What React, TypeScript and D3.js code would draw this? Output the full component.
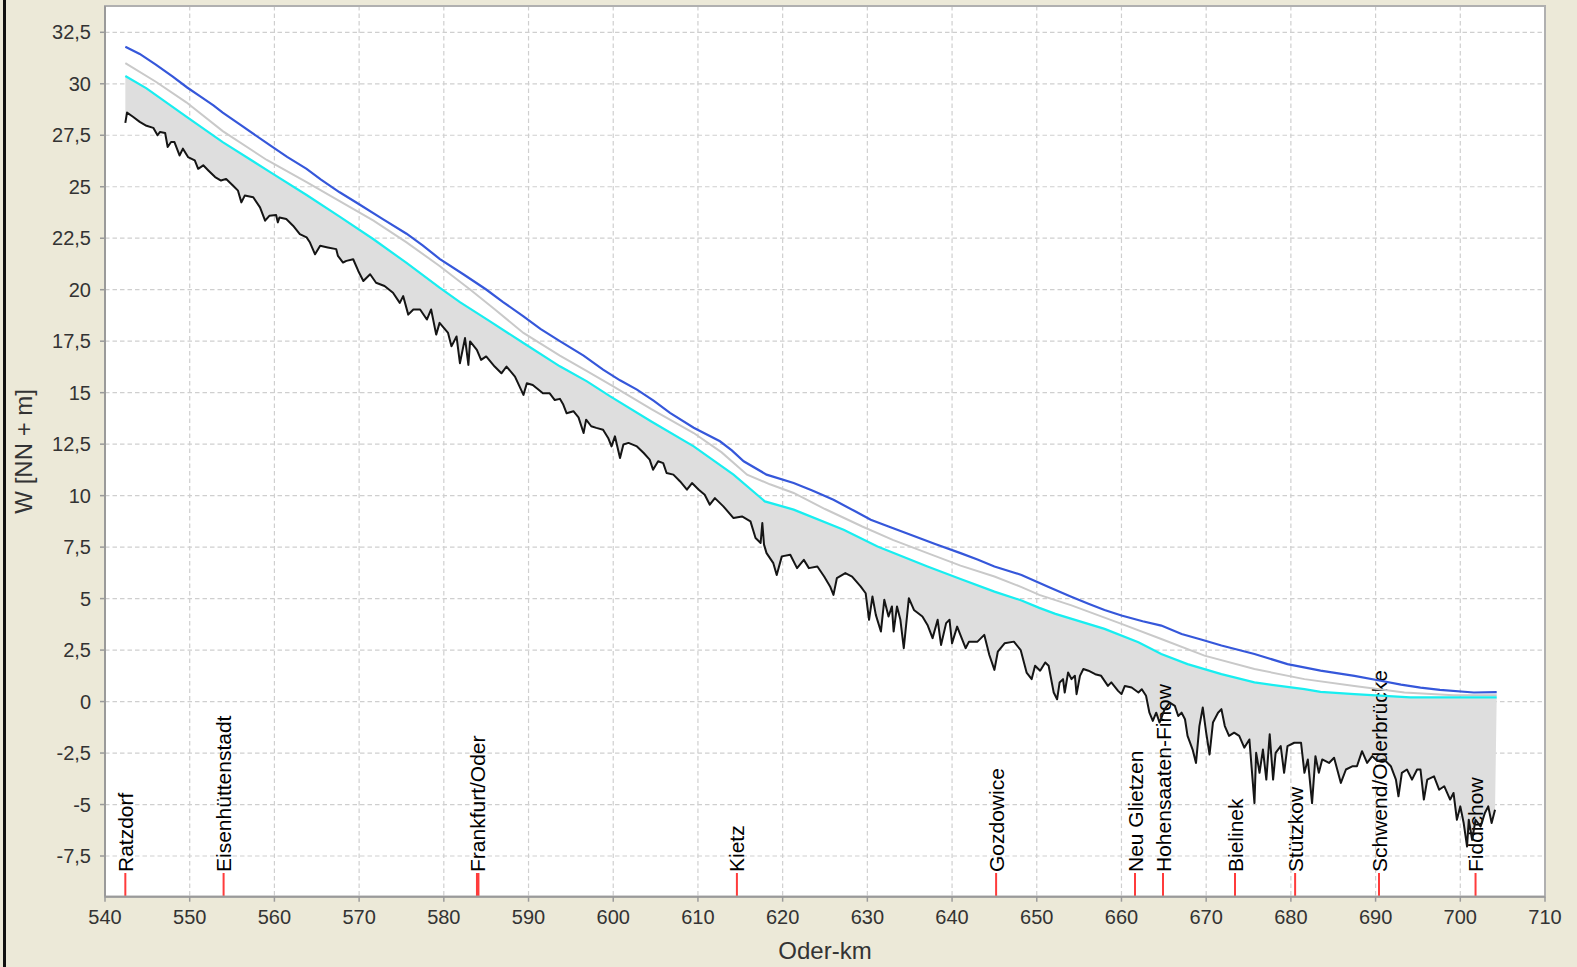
import React from "react";
import * as d3 from "d3";

// ---------- data ----------
const xTickValues = [540, 550, 560, 570, 580, 590, 600, 610, 620, 630, 640, 650, 660, 670, 680, 690, 700, 710];
const yTickValues = [-7.5, -5, -2.5, 0, 2.5, 5, 7.5, 10, 12.5, 15, 17.5, 20, 22.5, 25, 27.5, 30, 32.5];

const xLabel = "Oder-km";
const yLabel = "W [NN + m]";

const stationNames = [
  "Ratzdorf", "Eisenhüttenstadt", "Frankfurt/Oder", "Kietz", "Gozdowice",
  "Neu Glietzen", "Hohensaaten-Finow", "Bielinek", "Stützkow", "Schwend/Oderbrücke", "Fiddichow",
];
const stationKm = [542.4, 554.0, 584.0, 614.6, 645.2, 661.6, 664.9, 673.4, 680.5, 690.4, 701.8];

// upper water level (blue)
const blueLine: [number, number][] = [
  [542.4, 31.8], [544.1, 31.45], [546.0, 30.93], [548.0, 30.35], [549.7, 29.82], [551.2, 29.4],
  [552.8, 28.95], [553.9, 28.6], [556.0, 28.0], [559.5, 27.01], [561.5, 26.45], [563.8, 25.87],
  [565.5, 25.35], [567.7, 24.73], [570.0, 24.15], [572.8, 23.43], [575.6, 22.72], [577.5, 22.15],
  [579.5, 21.5], [582.3, 20.75], [585.0, 20.01], [587.0, 19.4], [589.4, 18.71], [591.4, 18.1],
  [593.7, 17.5], [596.5, 16.8], [598.8, 16.12], [600.8, 15.6], [602.8, 15.15], [604.8, 14.6],
  [606.7, 14.02], [609.5, 13.3], [612.6, 12.64], [614.0, 12.2], [615.4, 11.67], [618.1, 11.02],
  [621.3, 10.61], [623.5, 10.25], [626.0, 9.8], [628.5, 9.25], [630.4, 8.83], [632.5, 8.5],
  [635.1, 8.1], [638.0, 7.65], [641.0, 7.21], [643.0, 6.9], [645.0, 6.56], [648.2, 6.15],
  [651.4, 5.56], [654.0, 5.1], [656.1, 4.75], [658.0, 4.45], [660.0, 4.18], [662.5, 3.9],
  [664.7, 3.69], [667.1, 3.28], [669.5, 3.0], [671.8, 2.72], [675.7, 2.31], [679.6, 1.82],
  [683.5, 1.5], [687.5, 1.25], [690.6, 1.01], [693.0, 0.82], [695.3, 0.68], [697.6, 0.57],
  [701.6, 0.44], [704.3, 0.46],
];

// middle water level (light grey)
const greyLine: [number, number][] = [
  [542.4, 31.0], [546.0, 30.1], [549.6, 29.1], [553.9, 27.7], [559.1, 26.3], [563.8, 25.22],
  [567.7, 24.3], [571.7, 23.35], [575.6, 22.3], [579.5, 21.15], [583.1, 20.01], [586.0, 19.05],
  [589.4, 17.9], [593.7, 16.8], [596.9, 16.05], [600.0, 15.31], [604.5, 14.2], [609.5, 13.04],
  [612.8, 12.1], [615.8, 11.02], [618.5, 10.55], [621.3, 10.13], [625.0, 9.35], [629.4, 8.5],
  [633.0, 7.85], [637.1, 7.21], [641.0, 6.6], [645.0, 6.07], [648.2, 5.56], [650.3, 5.18],
  [654.1, 4.67], [660.0, 3.77], [664.7, 3.04], [669.8, 2.23], [675.7, 1.58], [681.6, 1.09],
  [687.5, 0.76], [693.4, 0.44], [699.2, 0.31], [704.3, 0.31],
];

// lower water level (cyan)
const cyanLine: [number, number][] = [
  [542.4, 30.38], [544.9, 29.78], [549.6, 28.4], [553.9, 27.17], [559.5, 25.71], [563.8, 24.6],
  [567.7, 23.55], [571.7, 22.45], [575.6, 21.3], [579.5, 20.1], [581.9, 19.4], [585.5, 18.45],
  [589.4, 17.41], [593.7, 16.28], [596.9, 15.55], [599.6, 14.83], [604.5, 13.6], [609.5, 12.39],
  [614.2, 11.02], [617.9, 9.72], [621.3, 9.32], [627.2, 8.34], [631.2, 7.53], [637.1, 6.56],
  [641.0, 5.95], [645.0, 5.34], [648.2, 4.91], [650.3, 4.55], [652.2, 4.26], [658.0, 3.53],
  [662.0, 2.88], [664.7, 2.31], [667.8, 1.82], [671.8, 1.33], [675.7, 0.93], [681.6, 0.6],
  [683.5, 0.47], [687.5, 0.36], [694.1, 0.2], [704.3, 0.2],
];

// river bed (black)
const bedLine: [number, number][] = [
  [542.4, 28.1], [542.6, 28.6], [543.3, 28.4], [544.1, 28.15], [544.9, 27.96], [545.7, 27.86],
  [546.2, 27.5], [546.5, 27.66], [547.1, 27.61], [547.4, 26.93], [547.8, 27.17], [548.2, 27.17],
  [548.8, 26.52], [549.2, 26.85], [549.8, 26.44], [550.6, 26.28], [551.0, 25.87], [551.6, 26.04],
  [552.2, 25.79], [553.0, 25.47], [553.7, 25.3], [554.3, 25.38], [555.1, 25.06], [555.7, 24.81],
  [556.1, 24.24], [556.5, 24.57], [557.5, 24.49], [558.3, 24.0], [558.9, 23.35], [559.4, 23.59],
  [560.2, 23.63], [560.4, 23.27], [560.6, 23.51], [561.4, 23.43], [562.2, 23.11], [563.0, 22.7],
  [563.8, 22.54], [564.2, 22.29], [564.8, 21.72], [565.4, 22.13], [566.3, 22.05], [567.3, 21.97],
  [567.5, 21.64], [568.1, 21.32], [568.5, 21.4], [569.3, 21.48], [569.9, 20.91], [570.5, 20.42],
  [571.3, 20.75], [572.0, 20.34], [573.0, 20.18], [574.0, 19.85], [574.8, 19.36], [575.2, 19.69],
  [575.8, 18.79], [576.4, 19.04], [577.2, 19.04], [578.0, 18.55], [578.5, 19.04], [579.1, 17.82],
  [579.5, 18.39], [580.5, 17.9], [580.9, 17.25], [581.5, 17.73], [581.9, 16.43], [582.5, 17.65],
  [582.9, 16.35], [583.1, 17.49], [583.9, 17.08], [584.4, 16.59], [585.0, 16.76], [586.0, 16.27],
  [586.8, 15.94], [587.4, 16.27], [588.4, 15.78], [589.4, 14.89], [589.8, 15.46], [590.5, 15.37],
  [591.7, 14.97], [592.5, 14.97], [593.1, 14.64], [593.7, 14.7], [594.1, 14.42], [594.5, 14.0],
  [595.3, 14.1], [595.9, 13.8], [596.5, 13.04], [596.8, 13.69], [597.4, 13.37], [598.0, 13.29],
  [598.8, 13.2], [599.4, 12.8], [599.8, 12.39], [600.2, 12.88], [600.8, 11.83], [601.2, 12.48],
  [601.8, 12.56], [602.8, 12.39], [603.6, 12.07], [604.3, 11.75], [604.7, 11.26], [605.3, 11.67],
  [605.9, 11.58], [606.3, 11.1], [607.1, 11.02], [607.9, 10.69], [608.7, 10.29], [609.3, 10.61],
  [610.1, 10.29], [610.8, 10.04], [611.4, 9.56], [612.0, 9.88], [613.0, 9.48], [614.2, 8.91],
  [615.2, 8.99], [616.2, 8.75], [616.8, 7.94], [617.4, 7.7], [617.6, 8.67], [617.8, 7.62],
  [618.1, 7.21], [618.9, 6.72], [619.3, 6.15], [619.9, 7.05], [620.9, 7.13], [621.7, 6.48],
  [622.5, 6.88], [623.1, 6.48], [624.1, 6.56], [624.9, 6.07], [625.6, 5.59], [626.0, 5.18],
  [626.4, 5.99], [627.4, 6.24], [628.2, 6.07], [629.2, 5.59], [629.8, 5.26], [630.2, 3.97],
  [630.6, 5.1], [631.0, 4.21], [631.6, 3.4], [632.0, 4.94], [632.5, 4.13], [632.9, 4.62],
  [633.1, 3.4], [633.5, 4.62], [633.9, 3.97], [634.3, 2.59], [634.9, 5.02], [635.5, 4.45],
  [636.5, 4.13], [637.1, 3.72], [637.7, 3.08], [638.3, 3.97], [638.7, 2.75], [639.3, 3.81],
  [639.7, 3.97], [640.0, 2.83], [640.6, 3.64], [641.6, 2.59], [642.0, 2.91], [643.0, 2.91],
  [643.8, 3.24], [644.4, 2.26], [645.0, 1.54], [645.4, 2.42], [646.2, 2.83], [647.3, 2.91],
  [648.1, 2.5], [648.8, 1.41], [649.4, 1.09], [649.8, 1.74], [650.4, 1.5], [651.0, 1.9],
  [651.4, 1.74], [652.0, 0.44], [652.4, 0.11], [652.7, 0.93], [653.1, 1.09], [653.3, 0.44],
  [653.7, 1.41], [654.1, 1.09], [654.5, 1.25], [654.7, 0.36], [655.1, 1.25], [655.5, 1.58],
  [656.1, 1.5], [656.9, 1.33], [657.6, 1.25], [658.4, 0.76], [658.8, 0.93], [659.6, 0.52],
  [660.0, 0.36], [660.4, 0.76], [661.2, 0.68], [662.0, 0.44], [662.4, 0.6], [662.9, 0.28],
  [663.3, -0.54], [663.7, -0.94], [664.1, -0.54], [664.5, -1.02], [665.1, -0.37], [665.7, -0.05],
  [666.3, -0.21], [666.7, -0.7], [667.1, -0.54], [667.5, -0.86], [667.8, -1.67], [668.4, -2.33],
  [668.8, -2.98], [669.2, -1.19], [669.6, -0.29], [670.0, -1.51], [670.4, -2.57], [670.8, -1.02],
  [671.4, -0.54], [671.8, -0.37], [672.2, -1.19], [672.7, -1.67], [673.3, -1.51], [673.9, -1.67],
  [674.5, -2.24], [675.1, -1.84], [675.7, -4.93], [675.9, -2.49], [676.3, -3.46], [676.7, -2.33],
  [677.1, -3.79], [677.5, -1.59], [677.9, -3.79], [678.2, -2.49], [678.8, -2.16], [679.2, -3.46],
  [679.6, -2.16], [680.4, -2.0], [681.2, -2.0], [681.6, -3.46], [682.0, -2.81], [682.5, -4.93],
  [682.9, -2.65], [683.3, -3.46], [683.7, -2.81], [684.5, -2.98], [685.1, -2.73], [685.9, -3.95],
  [686.5, -3.3], [687.3, -3.14], [687.8, -3.14], [688.4, -2.41], [689.0, -2.98], [689.6, -2.65],
  [690.2, -2.89], [691.0, -2.81], [691.8, -3.14], [692.4, -3.79], [692.7, -4.6], [693.1, -3.46],
  [693.7, -3.3], [694.3, -3.79], [694.9, -3.3], [695.3, -3.3], [695.7, -4.76], [696.1, -3.79],
  [696.9, -3.63], [697.5, -4.28], [698.1, -4.11], [698.8, -4.76], [699.2, -4.44], [699.6, -5.74],
  [700.0, -5.09], [700.4, -5.9], [700.8, -7.04], [701.0, -5.74], [701.4, -6.72], [701.8, -5.74],
  [702.4, -6.07], [702.9, -5.41], [703.3, -5.09], [703.7, -5.9], [704.1, -5.25],
];

const wideMarkers = new Set(["Frankfurt/Oder"]);

// ---------- layout ----------
const W = 1577;
const H = 967;
const plotL = 105;
const plotR = 1545;
const plotT = 6;
const plotB = 896.7;

const FONT = "'Liberation Sans', Arial, Helvetica, sans-serif";

const fmt = (v: number) => String(v).replace(".", ",");

export default function App() {
  const x = d3.scaleLinear().domain([540, 710]).range([plotL, plotR]);
  const y = d3.scaleLinear().domain([-9.476, 33.777]).range([plotB, plotT]);

  const line = d3
    .line<[number, number]>()
    .x((d) => x(d[0]))
    .y((d) => y(d[1]));

  const fillPts: [number, number][] = [...cyanLine, ...bedLine.slice().reverse()];
  const fillPath = line(fillPts) + "Z";

  const gridColor = "#CFCFCF";
  const axisColor = "#9A9A9A";
  const markerTop = 873;

  return (
    <svg
      width={W}
      height={H}
      style={{ position: "absolute", left: 0, top: 0, display: "block" }}
      xmlns="http://www.w3.org/2000/svg"
    >
      <rect x={0} y={0} width={W} height={H} fill="#ECE9D8" />
      <rect x={3} y={0} width={3} height={H} fill="#111" />

      {/* plot area */}
      <rect x={plotL} y={plotT} width={plotR - plotL} height={plotB - plotT} fill="#FFFFFF" />

      {/* grid */}
      <g>
        {xTickValues
          .filter((v) => v > 540 && v < 710)
          .map((v) => (
            <line
              key={"gx" + v}
              x1={x(v)}
              x2={x(v)}
              y1={plotT}
              y2={plotB}
              stroke={gridColor}
              strokeWidth={1.2}
              strokeDasharray="4.5,3"
            />
          ))}
        {yTickValues.map((v) => (
          <line
            key={"gy" + v}
            x1={plotL}
            x2={plotR}
            y1={y(v)}
            y2={y(v)}
            stroke={gridColor}
            strokeWidth={1.2}
            strokeDasharray="4.5,3"
          />
        ))}
      </g>

      {/* fill between lower water level and bed */}
      <path d={fillPath} fill="#DEDEDE" stroke="none" />

      {/* station labels */}
      <g>
        {stationNames.map((name, i) => {
          const sx = x(stationKm[i]);
          return (
            <g key={name}>
              <line
                x1={sx}
                x2={sx}
                y1={markerTop}
                y2={plotB}
                stroke="#FF3B3B"
                strokeWidth={wideMarkers.has(name) ? 3.5 : 2}
              />
              <text
                transform={`translate(${sx},${markerTop - 1}) rotate(-90)`}
                textAnchor="start"
                dy="0.36em"
                fontFamily={FONT}
                fontSize={21}
                fill="#000"
              >
                {name}
              </text>
            </g>
          );
        })}
      </g>

      {/* series */}
      <path d={line(greyLine) || ""} fill="none" stroke="#C9C9C9" strokeWidth={2} />
      <path d={line(blueLine) || ""} fill="none" stroke="#3557DA" strokeWidth={2.2} />
      <path d={line(cyanLine) || ""} fill="none" stroke="#18EEF0" strokeWidth={2.2} />
      <path d={line(bedLine) || ""} fill="none" stroke="#151515" strokeWidth={2} strokeLinejoin="round" />

      {/* plot border */}
      <rect
        x={plotL}
        y={plotT}
        width={plotR - plotL}
        height={plotB - plotT}
        fill="none"
        stroke="#B0B0B0"
        strokeWidth={2}
      />
      {/* axes lines */}
      <line x1={plotL} x2={plotL} y1={plotT} y2={plotB} stroke={axisColor} strokeWidth={2} />
      <line x1={plotL} x2={plotR} y1={plotB} y2={plotB} stroke={axisColor} strokeWidth={2} />

      {/* x ticks */}
      <g>
        {xTickValues.map((v) => (
          <g key={"xt" + v}>
            <line x1={x(v)} x2={x(v)} y1={plotB} y2={plotB + 5} stroke={axisColor} strokeWidth={1.5} />
            <text
              x={x(v)}
              y={923.5}
              textAnchor="middle"
              fontFamily={FONT}
              fontSize={20}
              fill="#333"
            >
              {fmt(v)}
            </text>
          </g>
        ))}
      </g>

      {/* y ticks */}
      <g>
        {yTickValues.map((v) => (
          <g key={"yt" + v}>
            <line x1={plotL - 5} x2={plotL} y1={y(v)} y2={y(v)} stroke={axisColor} strokeWidth={1.5} />
            <text
              x={91}
              y={y(v)}
              dy="0.36em"
              textAnchor="end"
              fontFamily={FONT}
              fontSize={20}
              fill="#333"
            >
              {fmt(v)}
            </text>
          </g>
        ))}
      </g>

      {/* axis labels */}
      <text
        x={(plotL + plotR) / 2}
        y={959}
        textAnchor="middle"
        fontFamily={FONT}
        fontSize={24}
        fill="#333"
      >
        {xLabel}
      </text>
      <text
        transform={`translate(32,${(plotT + plotB) / 2}) rotate(-90)`}
        textAnchor="middle"
        fontFamily={FONT}
        fontSize={24}
        fill="#333"
      >
        {yLabel}
      </text>
    </svg>
  );
}
